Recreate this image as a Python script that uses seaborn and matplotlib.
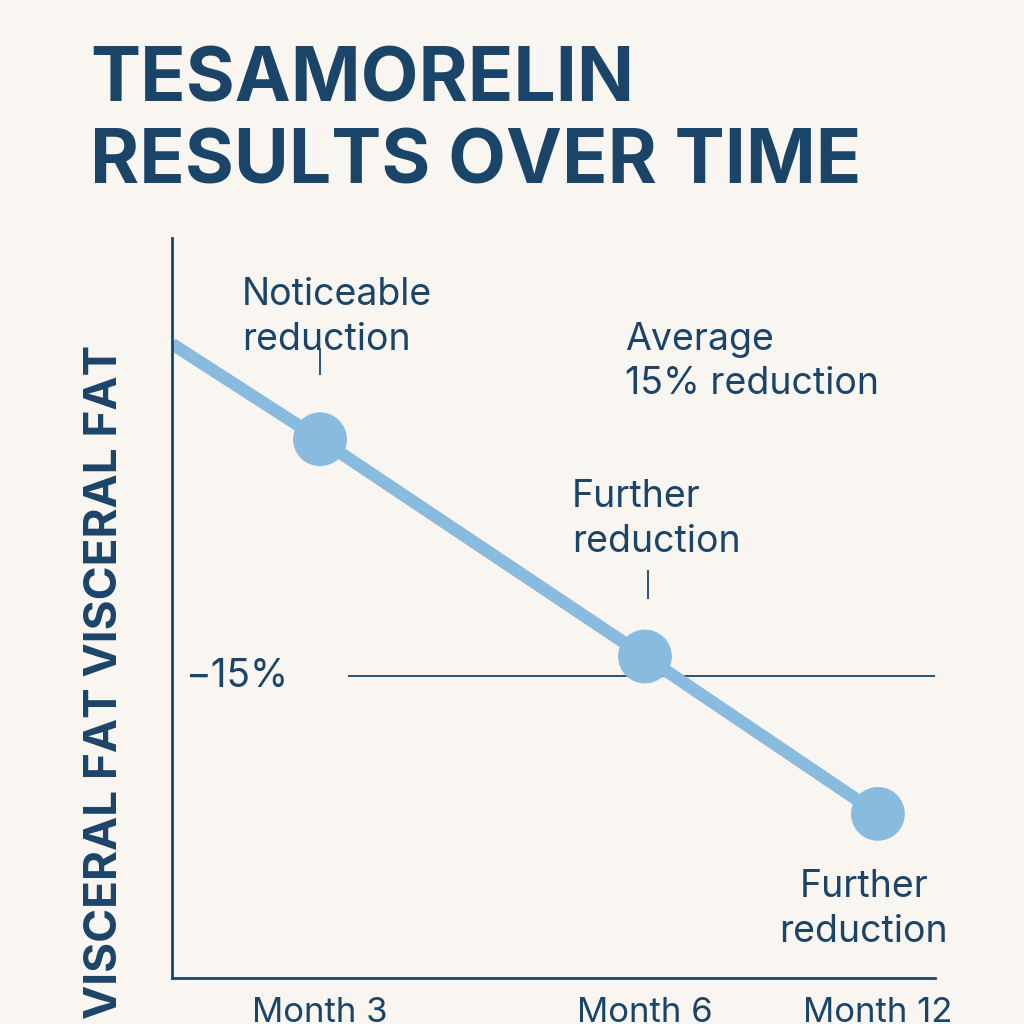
import matplotlib.pyplot as plt
import seaborn as sns
import pandas as pd

# chart values (x positions are on an arbitrary time axis, y is % change)
line_x = [0.0, 1.48, 4.73, 7.06]
line_y = [0.0, -4.3, -14.1, -21.2]
point_x = [1.48, 4.73, 7.06]
point_y = [-4.3, -14.1, -21.2]
month_labels = ["Month 3", "Month 6", "Month 12"]
target = -15

navy = "#1B4469"
blue = "#88BBDD"
bg = "#F9F5F0"

sns.set_style("white")
plt.rcParams["font.family"] = "Inter"
fig = plt.figure(figsize=(10.24, 10.24), dpi=100, facecolor=bg)
ax = fig.add_axes([0.168, 0.045, 0.745, 0.723], facecolor=bg)

df_line = pd.DataFrame({"x": line_x, "y": line_y})
df_pts = pd.DataFrame({"x": point_x, "y": point_y})
sns.lineplot(data=df_line, x="x", y="y", ax=ax, color=blue, linewidth=9, solid_capstyle="butt")
sns.scatterplot(data=df_pts, x="x", y="y", ax=ax, color=blue, s=1500, edgecolor="none", zorder=3)

ax.set_xlim(0, 7.63)
ax.set_ylim(-28.6, 4.8)
ax.hlines(target, 1.76, 7.63, color=navy, linewidth=1.3, zorder=1)
ax.text(0.13, target, "\u221215%", fontsize=28, color=navy, va="center", ha="left")

for s in ["top", "right"]:
    ax.spines[s].set_visible(False)
for s in ["left", "bottom"]:
    ax.spines[s].set_color(navy)
    ax.spines[s].set_linewidth(2)

ax.set_xticks(point_x)
ax.set_xticklabels(month_labels, fontsize=25, color=navy)
ax.tick_params(axis="x", length=0, pad=14)
ax.set_yticks([])
ax.set_xlabel("")
ax.set_ylabel("VISCERAL FAT VISCERAL FAT", fontsize=33, fontweight="bold", color=navy)
ax.yaxis.set_label_coords(-0.06, 0.4)

# annotations with small leader ticks
ax.text(0.70, 3.0, "Noticeable\nreduction", fontsize=27, color=navy, va="top", linespacing=1.3)
ax.vlines(1.48, -1.4, -0.2, color=navy, linewidth=1.3)
ax.text(4.53, 1.0, "Average\n15% reduction", fontsize=27, color=navy, va="top", linespacing=1.3)
ax.text(4.0, -6.1, "Further\nreduction", fontsize=27, color=navy, va="top", linespacing=1.3)
ax.vlines(4.76, -11.5, -10.2, color=navy, linewidth=1.3)
ax.text(6.92, -23.7, "Further\nreduction", fontsize=27, color=navy, va="top", ha="center", linespacing=1.3)

fig.text(0.088, 0.955, "TESAMORELIN\nRESULTS OVER TIME", fontsize=54, fontweight="bold",
         color=navy, va="top", ha="left", linespacing=1.2)

fig.savefig("out.png", dpi=100, facecolor=bg)
